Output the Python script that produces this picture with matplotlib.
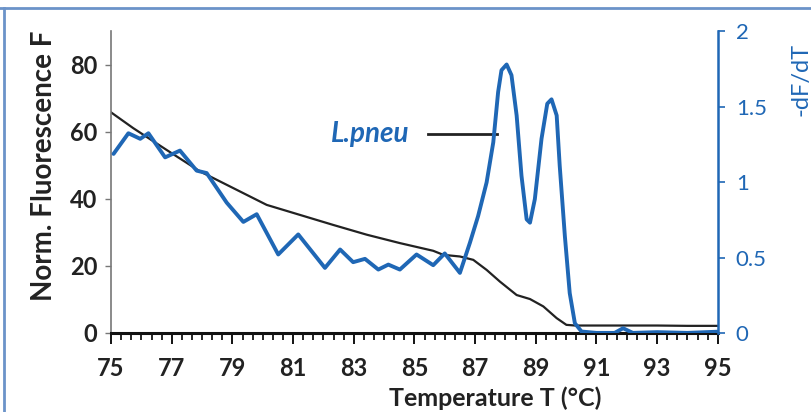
import numpy as np
import matplotlib.pyplot as plt
from matplotlib.ticker import MultipleLocator
from matplotlib.lines import Line2D

# Melting curve (normalized fluorescence, left axis)
temp_f = [75.0, 75.73, 76.83, 77.93, 79.03, 80.13, 81.23, 82.33, 83.43, 84.52,
          85.62, 85.95, 86.5, 86.94, 87.38, 87.82, 88.37, 88.81, 89.25, 89.69,
          90.01, 90.3, 91.0, 92.0, 93.0, 94.0, 95.0]
fluor = [65.8, 61.1, 54.6, 48.2, 43.2, 38.2, 35.2, 32.2, 29.3, 26.8,
         24.5, 23.3, 22.8, 21.8, 18.8, 15.3, 11.3, 10.1, 7.9, 4.4,
         2.4, 2.2, 2.2, 2.2, 2.2, 2.1, 2.1]

# Derivative -dF/dT (right axis)
temp_d = [75.08, 75.57, 75.96, 76.23, 76.78, 77.27, 77.82, 78.15, 78.81, 79.36,
          79.80, 80.51, 81.17, 82.05, 82.55, 82.98, 83.37, 83.81, 84.14, 84.52,
          85.07, 85.62, 86.0, 86.5, 86.83, 87.10, 87.38, 87.60, 87.76, 87.87,
          88.04, 88.20, 88.37, 88.53, 88.70, 88.81, 88.97, 89.19, 89.38, 89.52,
          89.69, 89.79, 89.96, 90.12, 90.29, 90.51, 91.0, 91.6, 91.88, 92.2,
          93.0, 94.0, 95.0]
dfdt = [1.187, 1.324, 1.287, 1.324, 1.164, 1.209, 1.076, 1.06, 0.864, 0.736,
        0.787, 0.52, 0.653, 0.431, 0.553, 0.469, 0.491, 0.42, 0.453, 0.42,
        0.52, 0.449, 0.527, 0.398, 0.598, 0.775, 0.998, 1.264, 1.598, 1.742,
        1.78, 1.709, 1.442, 1.042, 0.753, 0.731, 0.887, 1.287, 1.52, 1.549,
        1.442, 1.109, 0.642, 0.264, 0.064, 0.009, 0.0, 0.0, 0.031, 0.0,
        0.005, 0.0, 0.008]

blue = "#1f67b5"
font = ["Lato", "DejaVu Sans"]

fig = plt.figure(figsize=(8.11, 4.12), dpi=100)
ax = fig.add_axes([0.137, 0.192, 0.748, 0.732])
ax2 = ax.twinx()

ax.plot(temp_f, fluor, color="#222222", lw=1.6, solid_joinstyle="round")
ax2.plot(temp_d, dfdt, color=blue, lw=2.8, solid_joinstyle="round",
         solid_capstyle="round")

ax.set_xlim(75, 95)
ax.set_ylim(0, 90)
ax2.set_ylim(0, 2)

ax.set_xticks(np.arange(75, 96, 2))
ax.xaxis.set_minor_locator(MultipleLocator(1/3))
ax.set_yticks([0, 20, 40, 60, 80])
ax2.set_yticks([0, 0.5, 1, 1.5, 2])
ax2.set_yticklabels(["0", "0.5", "1", "1.5", "2"])

for lab in ax.get_xticklabels() + ax.get_yticklabels():
    lab.set_family(font)
    lab.set_fontweight("bold")
    lab.set_fontsize(17)
    lab.set_color("#222222")
for lab in ax2.get_yticklabels():
    lab.set_family(font)
    lab.set_fontsize(16)
    lab.set_color(blue)

ax.tick_params(axis="x", which="major", length=8, width=1.3, direction="out", pad=9)
ax.tick_params(axis="x", which="minor", length=5, width=1.2, direction="out")
ax.tick_params(axis="y", length=4, width=1, color="#777777", pad=6)
ax2.tick_params(axis="y", length=5, width=1.2, color=blue, pad=8)

ax.spines["top"].set_visible(False)
ax2.spines["top"].set_visible(False)
ax.spines["right"].set_visible(False)
ax2.spines["left"].set_visible(False)
ax2.spines["bottom"].set_visible(False)
ax.spines["left"].set_color("#777777")
ax.spines["left"].set_linewidth(1.2)
ax.spines["bottom"].set_linewidth(2.2)
ax.spines["bottom"].set_color("#111111")
ax2.spines["right"].set_color(blue)
ax2.spines["right"].set_linewidth(1.8)

ax.set_ylabel("Norm. Fluorescence F", family=font, fontweight="bold",
              fontsize=20, color="#222222")
ax.yaxis.set_label_coords(-0.09, 0.555)
ax.text(0.633, -0.215, "Temperature T (°C)", transform=ax.transAxes,
        family=font, fontweight="bold", fontsize=18, color="#222222",
        ha="center", va="center")
ax2.set_ylabel("-dF/dT", family=font, fontsize=17, color=blue)
ax2.yaxis.set_label_coords(1.12, 0.84)

# label with connector line
ax.text(84.85, 59.4, "L.pneu", color=blue, fontsize=20, fontweight="bold",
        fontstyle="italic", family=font, ha="right", va="center")
ax.plot([85.45, 87.72], [59.4, 59.4], color="#222222", lw=2)

# blue frame lines at top and left of picture
fig.add_artist(Line2D([0, 1], [0.98, 0.98], color="#6b93c9", lw=2,
                      transform=fig.transFigure))
fig.add_artist(Line2D([0.005, 0.005], [0, 0.98], color="#6b93c9", lw=2,
                      transform=fig.transFigure))

plt.savefig("out.png", dpi=100)
